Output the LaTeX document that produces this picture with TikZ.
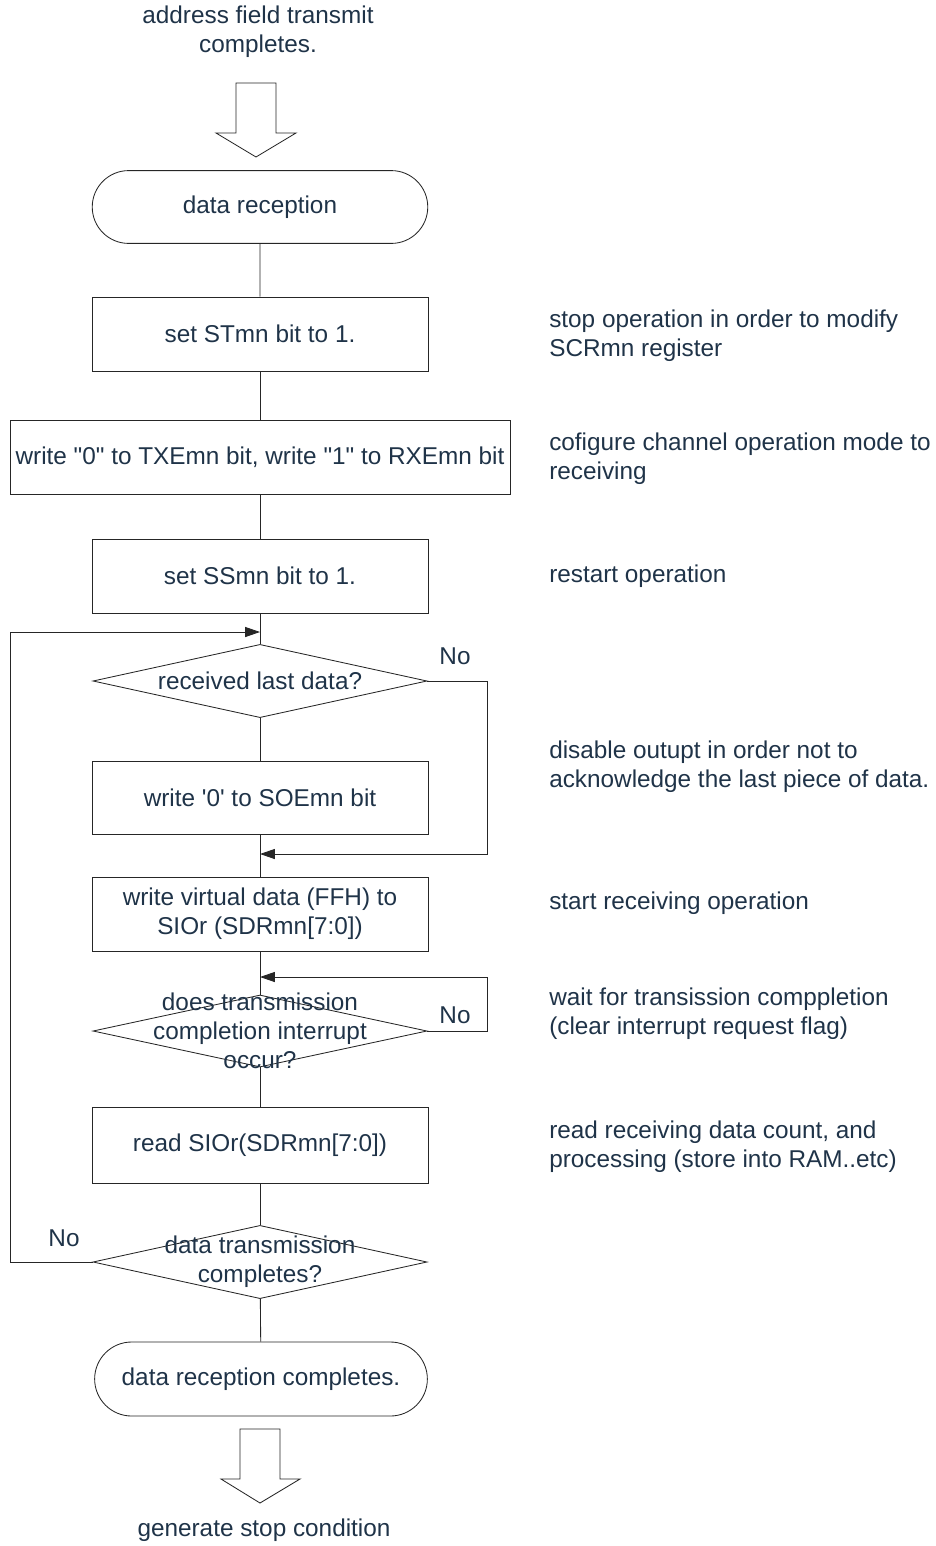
\documentclass[tikz,border=0pt]{standalone}
\usepackage{fontspec}
\newfontfamily\arialish{Liberation Sans}
\usepackage{xcolor}
\usetikzlibrary{positioning,arrows.meta,shapes.geometric,shapes.misc}
\definecolor{ink}{HTML}{1F3348}

\begin{document}
\begin{tikzpicture}[
  x=0.025cm, y=-0.025cm,
  font=\arialish\fontsize{17.3}{20.5}\selectfont,
  every node/.style={text=ink},
  proc/.style={draw=black!85, line width=0.6pt, minimum width=8.4cm, minimum height=1.85cm,
               align=center, inner sep=2pt},
  term/.style={draw=black!85, line width=0.6pt, rounded rectangle, minimum width=8.62cm,
               minimum height=1.82cm},
  decide/.style={draw=black!85, line width=0.6pt, diamond, minimum width=8.35cm,
                 minimum height=1.83cm, inner sep=0pt},
  note/.style={anchor=west, align=left, inner sep=0pt},
  link/.style={draw=black!85, line width=0.6pt},
  flow/.style={link, -{Triangle[length=3.7mm,width=2.5mm]}},
  bigarrow/.style={draw=black!85, line width=0.6pt, fill=white},
]
\useasboundingbox (0,0) rectangle (935,1546);

% Entry: hand-over from the address field step.
\node[align=center] (src) at (258,32) {address field transmit\\completes.};
\draw[bigarrow] (236,83) -- (276,83) -- (276,133) -- (296,133) -- (256,157) -- (216,133) -- (236,133) -- cycle;
\node[term] (start) at (260,207) {data reception};

% Set-up of the channel for receiving.
\node[proc] (setst) at (260,334) {set STmn bit to 1.};
\node[proc, minimum width=12.5cm] (mode) at (260,457) {write "0" to TXEmn bit, write "1" to RXEmn bit};
\node[proc] (setss) at (260,576) {set SSmn bit to 1.};
\draw[link] (start) -- (setst);
\draw[link] (setst) -- (mode);
\draw[link] (mode) -- (setss);

% Receive loop.
\coordinate (j1) at (260,632);
\node[decide] (lastq) at (260,681) {};
\node (lastqt) at (lastq) {received last data?};
\node[proc, minimum height=1.83cm] (soe) at (260,798) {write '0' to SOEmn bit};
\coordinate (j2) at (260,854);
\coordinate (turn1) at (487,854);
\node[proc] (dummy) at (260,914) {write virtual data (FFH) to\\SIOr (SDRmn[7:0])};
\coordinate (j3) at (260,977);
\coordinate (turn2) at (487,977);
\node[decide, minimum height=1.8cm] (waitq) at (260,1031) {};
\node[align=center] (waitqt) at (waitq) {does transmission\\completion interrupt\\occur?};
\node[proc, minimum height=1.9cm] (readsio) at (260,1145) {read SIOr(SDRmn[7:0])};
\node[decide] (endq) at (260,1262) {};
\node[align=center] (endqt) at (endq) {data transmission\\completes?};
\coordinate (turn3) at (10,632);

\draw[link] (setss) -- (lastq.north);
\draw[link] (lastq) -- (soe);
\draw[link] (soe) -- (dummy);
\draw[link] (dummy) -- (waitq.north);
\draw[link] (waitq) -- (readsio);
\draw[link] (readsio) -- (endq);
\draw[flow] (lastq.east) -| (turn1) -- (j2);
\draw[flow] (waitq.east) -| (turn2) -- (j3);
\draw[flow] (endq.west) -| (turn3) -- (j1);
\node (no1) at (455,656) {No};
\node (no2) at (455,1015) {No};
\node (no3) at (64,1238) {No};

% Exit: stop condition follows.
\node[term, minimum width=8.55cm, minimum height=1.85cm] (finish) at (261,1379) {data reception completes.};
\draw[link] (endq) -- (finish);
\draw[bigarrow] (240,1429) -- (280,1429) -- (280,1479) -- (300,1479) -- (260,1503) -- (221,1479) -- (240,1479) -- cycle;
\node (dst) at (264,1530) {generate stop condition};

% Notes on the right.
\node[note] (n1) at (549,336) {stop operation in order to modify\\SCRmn register};
\node[note] (n2) at (549,459) {cofigure channel operation mode to\\receiving};
\node[note] (n3) at (549,576) {restart operation};
\node[note] (n4) at (549,767) {disable outupt in order not to\\acknowledge the last piece of data.};
\node[note] (n5) at (549,903) {start receiving operation};
\node[note] (n6) at (549,1014) {wait for transission comppletion\\(clear interrupt request flag)};
\node[note] (n7) at (549,1147) {read receiving data count, and\\processing (store into RAM..etc)};
\end{tikzpicture}
\end{document}
